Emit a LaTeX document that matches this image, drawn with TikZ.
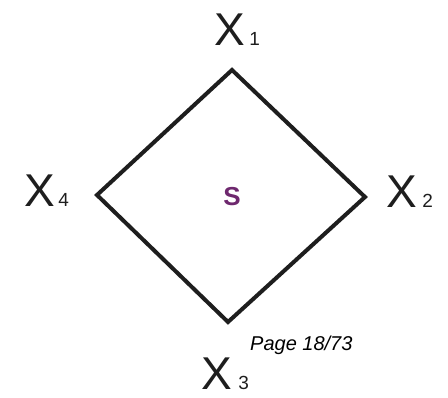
\documentclass[tikz,border=0pt]{standalone}
\usepackage{fontspec}
\setmainfont{Liberation Sans}
\usetikzlibrary{calc}
\definecolor{ShapeClr}{RGB}{30,30,30}
\definecolor{SetClr}{RGB}{110,40,110}

\tikzset{
  vlabel/.style={inner sep=0pt,text depth=0pt,anchor=base west,font=\fontsize{46}{46}\selectfont\color{ShapeClr}},
  vsub/.style={inner sep=0pt,text depth=0pt,anchor=base west,font=\fontsize{19}{19}\selectfont\color{ShapeClr}},
}

\begin{document}
\begin{tikzpicture}[x=1pt,y=-1pt]
\useasboundingbox (0,0) rectangle (448,398);

\coordinate (A) at (232,70);
\coordinate (B) at (365,197);
\coordinate (C) at (228,322);
\coordinate (D) at (97,195);

\draw[line width=4pt,color=ShapeClr,line join=miter] (A) -- (B) -- (C) -- (D) -- cycle;

\node[font=\fontsize{26}{26}\selectfont\bfseries\color{SetClr}] (S) at (232,197) {S};

% vertex labels
\node[vlabel] (X1) at (214,46) {X};
\node[vsub] at ($(X1.base east)+(4,0)$) {1};
\node[vlabel] (X2) at (386,208) {X};
\node[vsub] at ($(X2.base east)+(5,0)$) {2};
\node[vlabel] (X3) at (201,390) {X};
\node[vsub] at ($(X3.base east)+(6,0)$) {3};
\node[vlabel] (X4) at (24,207) {X};
\node[vsub] at ($(X4.base east)+(3,0)$) {4};

\node[inner sep=0pt,anchor=base west,font=\fontsize{20}{20}\selectfont\itshape] (pg) at (250,351) {Page 18/73};
\end{tikzpicture}
\end{document}
